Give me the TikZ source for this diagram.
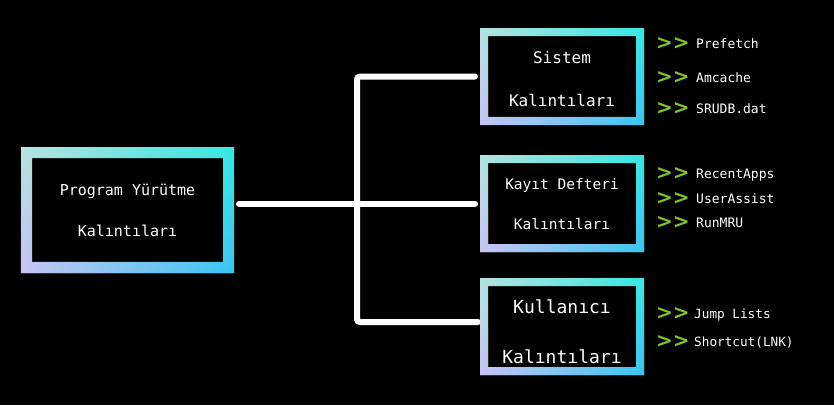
\documentclass[tikz,border=0pt]{standalone}
\usepackage{fontspec}
\setmonofont{DejaVu Sans Mono}
\newfontfamily\chevfont{DejaVu Sans}
\usetikzlibrary{calc,fadings}
\definecolor{cTL}{HTML}{B5E4DF}
\definecolor{cTR}{HTML}{35E9E2}
\definecolor{cBL}{HTML}{C9C3F5}
\definecolor{cBR}{HTML}{3BC5F1}
\definecolor{cG}{HTML}{7DC62A}
\tikzset{
  box/.style={minimum width=164pt,minimum height=97pt,inner sep=0pt,outer sep=0pt,align=center,text=white},
  wire/.style={white,line width=6pt,line cap=round,rounded corners=3pt},
  item/.style={anchor=base west,inner sep=0pt,text=white,font=\ttfamily\fontsize{13}{15}\selectfont}}
\newcommand{\glow}[2]{% <node> <border>
  \path[even odd rule,left color=cTL,right color=cTR]
    (#1.north west) rectangle (#1.south east)
    ($(#1.north west)+(#2,#2)$) rectangle ($(#1.south east)+(-#2,-#2)$);
  \path[even odd rule,left color=cBL,right color=cBR,path fading=north]
    (#1.north west) rectangle (#1.south east)
    ($(#1.north west)+(#2,#2)$) rectangle ($(#1.south east)+(-#2,-#2)$);}
\newcommand{\chev}[1][40pt]{\makebox[#1][l]{\raisebox{-1.2pt}{\textcolor{cG}{\chevfont\bfseries\fontsize{20}{20}\selectfont>{}>}}}}
\begin{document}
\begin{tikzpicture}[x=1pt,y=-1pt]
  \fill[black] (0,0) rectangle (834,405);
  \useasboundingbox (0,0) rectangle (834,405);
  % the four boxes
  \node[box,minimum width=213pt,minimum height=126pt,font=\ttfamily\fontsize{15}{18}\selectfont] (prog) at (127.5,210) {Program Yürütme\\[23pt]Kalıntıları};
  \node[box,font=\ttfamily\fontsize{16}{19.2}\selectfont] (sys) at (562,76.5) {\rule{0pt}{18pt}Sistem\\[23.8pt]Kalıntıları};
  \node[box,font=\ttfamily\fontsize{14.5}{17.4}\selectfont] (reg) at (562,203.5) {\rule{0pt}{12.3pt}Kayıt Defteri\\[21.9pt]Kalıntıları};
  \node[box,font=\ttfamily\fontsize{18}{21.6}\selectfont] (usr) at (562,326.5) {\rule{0pt}{25pt}Kullanıcı\\[28.4pt]Kalıntıları};
  % connectors
  \coordinate (fork) at (357,203.5);
  \draw[wire] ($(prog.east |- reg.west)+(5,0)$) -- ($(reg.west)+(-5,0)$);
  \draw[wire] ($(sys.west)+(-5,0)$) -| (fork) |- ($(usr.west)+(-2,-4.5)$);
  \glow{prog}{11}
  \glow{sys}{8}
  \glow{reg}{8}
  \glow{usr}{8}
  % artefacts
  \foreach \i/\yy/\t in {1/48/Prefetch,2/82/Amcache,3/113/SRUDB.dat}
    \node[item] (s\i) at (656,\yy) {\chev\t};
  \foreach \i/\yy/\t in {1/178/RecentApps,2/203/UserAssist,3/227/RunMRU}
    \node[item] (r\i) at (656,\yy) {\chev\t};
  \foreach \i/\yy/\t in {1/318/Jump Lists,2/346/Shortcut(LNK)}
    \node[item,font=\ttfamily\fontsize{12.7}{15}\selectfont] (u\i) at (656,\yy) {\chev[38pt]\t};
\end{tikzpicture}
\end{document}
